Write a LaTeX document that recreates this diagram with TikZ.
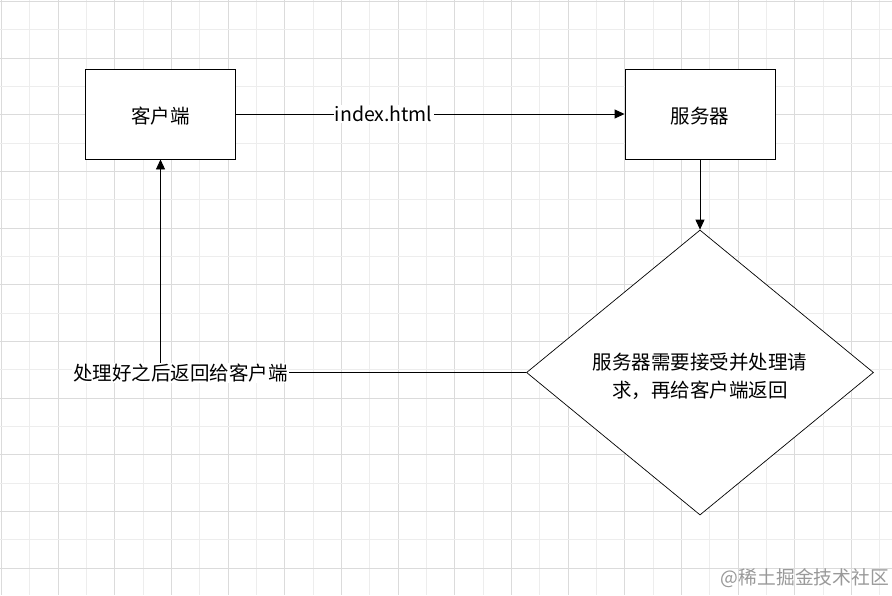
\documentclass[tikz,border=0pt]{standalone}
\usepackage{fontspec}
\newfontfamily\cjk{Noto Sans CJK SC}
\usetikzlibrary{arrows.meta}
\usetikzlibrary{shapes.geometric}

\begin{document}
\begin{tikzpicture}[x = 1pt, y = -1pt, font=\cjk\fontsize{19.5}{28}\selectfont]
	\tikzstyle{boxStyle}=[shape = rectangle, minimum width = 150pt, minimum height = 90pt, inner sep = 0pt, text height = 21pt, draw, fill = white, line width = 0.9pt]
	\tikzstyle{decisionStyle}=[shape = diamond, minimum width = 347pt, minimum height = 285pt, inner sep = 0pt, draw, fill = white, line width = 0.7pt]
	\tikzstyle{decisionText}=[align = center, yshift = -4pt, inner sep = 0pt]
	\tikzstyle{labelStyle}=[fill = white, inner sep = 1pt]
	\tikzstyle{arrowStyle}=[-{Triangle[length = 10pt, width = 9pt]}, line width = 0.9pt]
	\tikzstyle{minorGrid}=[draw = black!7, line width = 0.8pt]
	\tikzstyle{majorGrid}=[draw = black!14, line width = 0.8pt]
	\useasboundingbox (0, 0) rectangle (892, 595);
	\fill[white] (0, 0) rectangle (892, 595);
	% background grid
	\foreach \k in {0, ..., 31} {
		\ifodd\k \draw[minorGrid] (1.5 + 28.33*\k, 0) -- (1.5 + 28.33*\k, 595);
		\else \draw[majorGrid] (1.5 + 28.33*\k, 0) -- (1.5 + 28.33*\k, 595); \fi
	}
	\foreach \k in {0, ..., 20} {
		\ifodd\k \draw[minorGrid] (0, 1.5 + 28.33*\k) -- (892, 1.5 + 28.33*\k);
		\else \draw[majorGrid] (0, 1.5 + 28.33*\k) -- (892, 1.5 + 28.33*\k); \fi
	}
	\node[boxStyle] (client) at (160.5, 114) {客户端};
	\node[boxStyle] (server) at (700, 114) {服务器};
	\node[decisionStyle, label = {[decisionText]center:服务器需要接受并处理请\\求，再给客户端返回}] (decision) at (700, 372.5) {};
	\coordinate (turn) at (160.5, 372.5);
	\draw[arrowStyle] (client) -- node[labelStyle, pos = 0.38] (indexLabel) {index.html} (server);
	\draw[arrowStyle] (server) -- (decision);
	\draw[arrowStyle] (decision) -- (turn) -- (client);
	\node[labelStyle] (backLabel) at (180.5, 373) {处理好之后返回给客户端};
	\node[text = black!40, font = \cjk\fontsize{18.8}{22}\selectfont] (watermark) at (805, 578) {@稀土掘金技术社区};
\end{tikzpicture}
\end{document}
